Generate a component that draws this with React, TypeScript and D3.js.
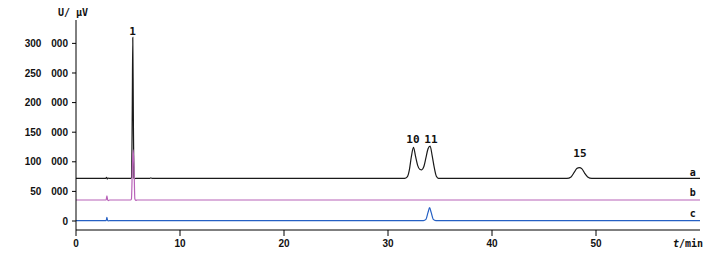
import React from "react";
import * as d3 from "d3";

// Chromatogram traces: [time (min), signal (µV)]
const traceA: [number, number][] = [
  [0, 72000], [2.85, 72000], [2.95, 73800], [3.0, 71000], [3.1, 72400], [3.2, 72000],
  [5.25, 72000], [5.35, 73500], [5.41, 190000], [5.46, 310000], [5.51, 190000], [5.57, 72800], [5.63, 71500], [5.75, 72000],
  [7.1, 72000], [7.2, 72900], [7.3, 72000],
  [31.6, 72000], [31.85, 74500], [32.05, 86000], [32.25, 109000], [32.45, 124500], [32.65, 109000],
  [32.85, 94000], [33.05, 87500], [33.25, 86500], [33.45, 92000], [33.65, 107000], [33.85, 122000],
  [34.05, 126500], [34.25, 110000], [34.45, 90000], [34.65, 75500], [34.85, 72000],
  [47.2, 72000], [47.6, 74500], [47.9, 82000], [48.15, 88500], [48.4, 90000], [48.65, 88000],
  [48.9, 81000], [49.2, 74500], [49.6, 72000], [60, 72000],
];

const traceB: [number, number][] = [
  [0, 35500], [2.9, 35500], [2.97, 42500], [3.03, 36500], [3.1, 34500], [3.25, 35500],
  [5.25, 35500], [5.33, 37000], [5.42, 90000], [5.5, 120000], [5.58, 90000], [5.66, 37000], [5.75, 35000], [5.9, 35500],
  [60, 35500],
];

const traceC: [number, number][] = [
  [0, 600], [2.9, 600], [2.97, 6000], [3.03, 1500], [3.1, 300], [3.25, 600],
  [33.4, 600], [33.65, 2800], [33.85, 14500], [34.0, 22500], [34.15, 14500], [34.35, 2800], [34.6, 600],
  [60, 600],
];

const peakLabels = ["1", "10", "11", "15"];
const peakLabelTimes = [5.45, 32.4, 34.13, 48.46];
const peakLabelValues = [314000, 131000, 131000, 108600];

const traceNames = ["a", "b", "c"];
const traceNameValues = [76000, 42200, 7600];
const traceColors = ["#1a1a1a", "#b862b8", "#2560c4"];

const yTickValues = [0, 50000, 100000, 150000, 200000, 250000, 300000];
const yTickLabels = ["0", "50 000", "100 000", "150 000", "200 000", "250 000", "300 000"];
const xTickValues = [0, 10, 20, 30, 40, 50];
const xTickLabels = ["0", "10", "20", "30", "40", "50"];

export default function App() {
  const x = d3.scaleLinear().domain([0, 60]).range([76, 700]);
  const y = d3.scaleLinear().domain([-15200, 339500]).range([230, 20]);
  const line = d3
    .line<[number, number]>()
    .x((d) => x(d[0]))
    .y((d) => y(d[1]))
    .curve(d3.curveMonotoneX);

  const traces = [traceA, traceB, traceC];
  const tickFont = "'Liberation Sans', Arial, sans-serif";
  const monoFont = "'DejaVu Sans Mono', 'Liberation Mono', monospace";

  return (
    <svg
      width={725}
      height={255}
      style={{ position: "absolute", left: 0, top: 0, background: "#fff" }}
    >
      <rect width={725} height={255} fill="#fff" />
      {traces.map((t, i) => (
        <path key={i} d={line(t) || ""} fill="none" stroke={traceColors[i]} strokeWidth={1.2} />
      ))}
      {/* axes */}
      <line x1={76} x2={76} y1={20} y2={230} stroke="#000" strokeWidth={1} />
      <line x1={76} x2={700} y1={230} y2={230} stroke="#000" strokeWidth={1} />
      {yTickValues.map((v, i) => (
        <g key={v}>
          <line x1={72} x2={76} y1={y(v)} y2={y(v)} stroke="#000" />
          <text
            x={68}
            y={y(v) + 3.6}
            textAnchor="end"
            fontFamily={tickFont}
            fontWeight="bold"
            fontSize={10}
            fill="#111"
          >
            {yTickLabels[i].replace(" ", "\u2003")}
          </text>
        </g>
      ))}
      {xTickValues.map((v, i) => (
        <g key={v}>
          <line x1={x(v)} x2={x(v)} y1={230} y2={236} stroke="#000" />
          <text
            x={x(v)}
            y={247}
            textAnchor="middle"
            fontFamily={tickFont}
            fontWeight="bold"
            fontSize={10}
            fill="#111"
          >
            {xTickLabels[i]}
          </text>
        </g>
      ))}
      <text x={703} y={247} textAnchor="end" fontFamily={monoFont} fontWeight="bold" fontSize={10} fill="#111">
        <tspan fontStyle="italic">t</tspan>/min
      </text>
      <text x={73} y={16} textAnchor="middle" fontFamily={monoFont} fontWeight="bold" fontSize={10} fill="#111">
        U/ μV
      </text>
      {peakLabels.map((l, i) => (
        <text
          key={l}
          x={x(peakLabelTimes[i])}
          y={y(peakLabelValues[i])}
          textAnchor="middle"
          fontFamily={monoFont}
          fontWeight="bold"
          fontSize={11}
          fill="#111"
        >
          {l}
        </text>
      ))}
      {traceNames.map((n, i) => (
        <text
          key={n}
          x={x(59.3)}
          y={y(traceNameValues[i])}
          textAnchor="middle"
          fontFamily={monoFont}
          fontWeight="bold"
          fontSize={10}
          fill="#111"
        >
          {n}
        </text>
      ))}
    </svg>
  );
}
